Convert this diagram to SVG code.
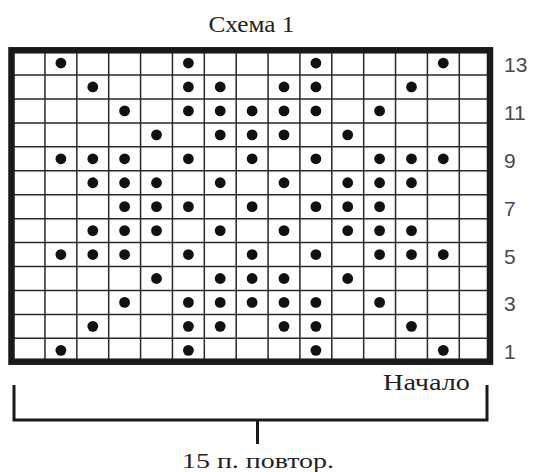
<svg xmlns="http://www.w3.org/2000/svg" width="534" height="472" viewBox="0 0 534 472">
<style>
.g{stroke:#2a2a2a;stroke-width:1.5;fill:none}
.b{stroke:#1a1a1a;stroke-width:6.5;fill:none}
.d{fill:#111}
.n{font-family:"Liberation Sans",Arial,sans-serif;font-size:21px;fill:#4a4a4a}
.s{font-family:"Liberation Serif","Times New Roman",serif;fill:#222}
.br{stroke:#1a1a1a;stroke-width:3;fill:none}
</style>
<defs><circle id="dot" r="5.4" class="d"/></defs>
<rect width="534" height="472" fill="#fff"/>
<text class="s" x="251.5" y="32" font-size="23" text-anchor="middle" textLength="86" lengthAdjust="spacingAndGlyphs">Схема 1</text>
<g id="grid">
<path class="g" d="M44.97 50V362M76.84 50V362M108.71 50V362M140.58 50V362M172.45 50V362M204.32 50V362M236.19 50V362M268.06 50V362M299.93 50V362M331.8 50V362M363.67 50V362M395.54 50V362M427.41 50V362M459.28 50V362"/>
<path class="g" d="M11 75H490M11 98.94H490M11 122.88H490M11 146.82H490M11 170.76H490M11 194.7H490M11 218.64H490M11 242.58H490M11 266.52H490M11 290.46H490M11 314.4H490M11 338.34H490"/>
<rect class="b" x="11.5" y="50.3" width="478.5" height="311.4"/>
</g>
<g id="dots">
<g transform="translate(0,63.03)"><use href="#dot" x="60.9"/><use href="#dot" x="188.4"/><use href="#dot" x="315.9"/><use href="#dot" x="443.3"/></g>
<g transform="translate(0,86.97)"><use href="#dot" x="92.8"/><use href="#dot" x="188.4"/><use href="#dot" x="220.2"/><use href="#dot" x="284"/><use href="#dot" x="315.9"/><use href="#dot" x="411.5"/></g>
<g transform="translate(0,110.91)"><use href="#dot" x="124.6"/><use href="#dot" x="188.4"/><use href="#dot" x="220.2"/><use href="#dot" x="252.1"/><use href="#dot" x="284"/><use href="#dot" x="315.9"/><use href="#dot" x="379.6"/></g>
<g transform="translate(0,134.85)"><use href="#dot" x="156.5"/><use href="#dot" x="220.2"/><use href="#dot" x="252.1"/><use href="#dot" x="284"/><use href="#dot" x="347.7"/></g>
<g transform="translate(0,158.79)"><use href="#dot" x="60.9"/><use href="#dot" x="92.8"/><use href="#dot" x="124.6"/><use href="#dot" x="188.4"/><use href="#dot" x="252.1"/><use href="#dot" x="315.9"/><use href="#dot" x="379.6"/><use href="#dot" x="411.5"/><use href="#dot" x="443.3"/></g>
<g transform="translate(0,182.73)"><use href="#dot" x="92.8"/><use href="#dot" x="124.6"/><use href="#dot" x="156.5"/><use href="#dot" x="220.2"/><use href="#dot" x="284"/><use href="#dot" x="347.7"/><use href="#dot" x="379.6"/><use href="#dot" x="411.5"/></g>
<g transform="translate(0,206.67)"><use href="#dot" x="124.6"/><use href="#dot" x="156.5"/><use href="#dot" x="188.4"/><use href="#dot" x="252.1"/><use href="#dot" x="315.9"/><use href="#dot" x="347.7"/><use href="#dot" x="379.6"/></g>
<g transform="translate(0,230.61)"><use href="#dot" x="92.8"/><use href="#dot" x="124.6"/><use href="#dot" x="156.5"/><use href="#dot" x="220.2"/><use href="#dot" x="284"/><use href="#dot" x="347.7"/><use href="#dot" x="379.6"/><use href="#dot" x="411.5"/></g>
<g transform="translate(0,254.55)"><use href="#dot" x="60.9"/><use href="#dot" x="92.8"/><use href="#dot" x="124.6"/><use href="#dot" x="188.4"/><use href="#dot" x="252.1"/><use href="#dot" x="315.9"/><use href="#dot" x="379.6"/><use href="#dot" x="411.5"/><use href="#dot" x="443.3"/></g>
<g transform="translate(0,278.49)"><use href="#dot" x="156.5"/><use href="#dot" x="220.2"/><use href="#dot" x="252.1"/><use href="#dot" x="284"/><use href="#dot" x="347.7"/></g>
<g transform="translate(0,302.43)"><use href="#dot" x="124.6"/><use href="#dot" x="188.4"/><use href="#dot" x="220.2"/><use href="#dot" x="252.1"/><use href="#dot" x="284"/><use href="#dot" x="315.9"/><use href="#dot" x="379.6"/></g>
<g transform="translate(0,326.37)"><use href="#dot" x="92.8"/><use href="#dot" x="188.4"/><use href="#dot" x="220.2"/><use href="#dot" x="284"/><use href="#dot" x="315.9"/><use href="#dot" x="411.5"/></g>
<g transform="translate(0,350.31)"><use href="#dot" x="60.9"/><use href="#dot" x="188.4"/><use href="#dot" x="315.9"/><use href="#dot" x="443.3"/></g>
</g>
<g id="row-numbers">
<text class="n" x="504" y="72">13</text>
<text class="n" x="504" y="119.9">11</text>
<text class="n" x="504" y="167.8">9</text>
<text class="n" x="504" y="215.7">7</text>
<text class="n" x="504" y="263.5">5</text>
<text class="n" x="504" y="311.4">3</text>
<text class="n" x="504" y="359.3">1</text>
</g>
<text class="s" x="383" y="390" font-size="23" textLength="87" lengthAdjust="spacingAndGlyphs">Начало</text>
<g id="bracket">
<path class="br" d="M14 385V420H487V385M257.5 420V444"/>
</g>
<text class="s" x="258" y="468" font-size="22" text-anchor="middle" textLength="152" lengthAdjust="spacingAndGlyphs">15 п. повтор.</text>
</svg>
